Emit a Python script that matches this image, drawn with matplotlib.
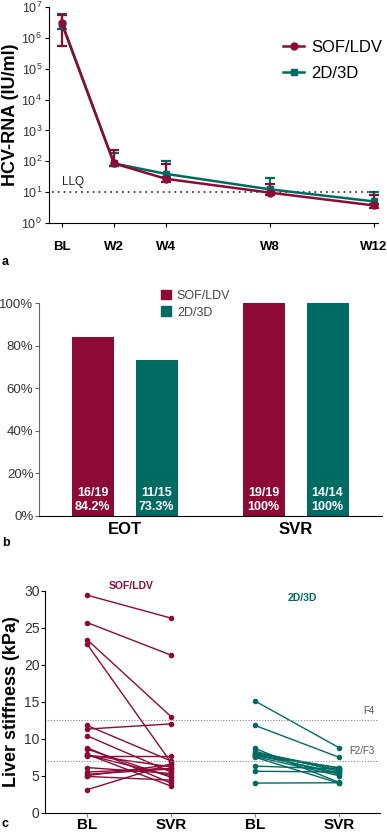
import matplotlib
matplotlib.use("Agg")
import matplotlib.pyplot as plt
from matplotlib.patches import Patch
from matplotlib.lines import Line2D

plt.rcParams['font.family'] = ['Liberation Sans', 'DejaVu Sans']

RED = "#8c0a35"
TEAL = "#006b62"
GREY = "#333333"

#------------------ data, panel a
weeks = [0, 2, 4, 8, 12]
week_labels = ["BL", "W2", "W4", "W8", "W12"]
sof_rna = [3.0e6, 85, 27, 9.6, 3.7]
sof_rna_hi = [5.4e6, 230, 80, 18, 8]
sof_rna_lo = [5.4e5, 70, 22, 8, 3.0]
dd_rna = [2.8e6, 85, 39, 12.3, 5.0]
dd_rna_hi = [6.0e6, 180, 100, 28, 10]
dd_rna_lo = [2.0e6, 72, 32, 10, 4.0]
llq = 10

#------------------ data, panel b
outcomes = ["EOT", "SVR"]
sof_rate = [84.2, 100]
dd_rate = [73.3, 100]
sof_counts = ["16/19", "19/19"]
dd_counts = ["11/15", "14/14"]
sof_pct = ["84.2%", "100%"]
dd_pct = ["73.3%", "100%"]

#------------------ data, panel c
stiff_ticks = ["BL", "SVR", "BL", "SVR"]
sof_bl = [29.4, 25.7, 23.4, 22.8, 11.8, 11.3, 10.4, 8.8, 8.6, 7.9, 7.8, 7.8, 7.7, 6.1, 5.5, 5.2, 5.0, 4.9, 3.1]
sof_svr = [26.3, 21.3, 13.0, 6.8, 7.0, 12.0, 5.5, 4.0, 4.8, 3.6, 5.0, 6.2, 7.7, 5.3, 6.0, 5.9, 6.5, 4.4, 6.6]
dd_bl = [15.1, 11.8, 8.7, 8.3, 8.1, 8.0, 7.9, 7.8, 7.7, 7.6, 7.5, 6.3, 5.6, 4.0]
dd_svr = [8.8, 7.5, 4.1, 5.6, 6.0, 5.8, 5.2, 5.4, 6.1, 5.0, 4.0, 5.9, 5.5, 4.05]
f4_cut = 12.5
f23_cut = 7.0

W, H = 387, 832
fig = plt.figure(figsize=(W / 100, H / 100), dpi=100)


def px_axes(left, top, right, bottom):
    return fig.add_axes([left / W, 1 - bottom / H, (right - left) / W, (bottom - top) / H])


#------------------ panel a
ax = px_axes(49, 7, 378, 223)
for vals, lo, hi, col, mk in [(dd_rna, dd_rna_lo, dd_rna_hi, TEAL, 's'),
                              (sof_rna, sof_rna_lo, sof_rna_hi, RED, 'o')]:
    err = [[v - l for v, l in zip(vals, lo)], [h - v for v, h in zip(vals, hi)]]
    ax.errorbar(weeks, vals, yerr=err, color=col, marker=mk, markersize=5,
                linewidth=1.8, elinewidth=1.6, capsize=3.5, capthick=1.6)
ax.axhline(llq, xmin=0.01, xmax=0.99, color='#222222', linestyle=(0, (1, 2.5)), linewidth=1.2)
ax.text(0.0, llq * 1.35, "LLQ", fontsize=8.5, color='#222222', ha='left', va='bottom')
ax.set_yscale('log')
ax.set_ylim(1, 1e7)
ax.set_xlim(-0.5, 12.15)
ax.set_yticks([10 ** k for k in range(8)])
ax.minorticks_off()
ax.set_xticks(weeks)
ax.set_xticklabels(week_labels, fontsize=9.5, fontweight='bold')
ax.tick_params(axis='x', length=3, pad=10)
ax.tick_params(axis='y', labelsize=9, length=3, labelcolor=GREY, pad=2)
ax.spines[['top', 'right']].set_visible(False)
ax.set_ylabel("HCV-RNA (IU/ml)", fontsize=13, fontweight='bold', labelpad=2)
handles = [Line2D([], [], color=RED, marker='o', markersize=5, linewidth=1.8),
           Line2D([], [], color=TEAL, marker='s', markersize=5, linewidth=1.8)]
ax.legend(handles, ["SOF/LDV", "2D/3D"], loc='upper left', bbox_to_anchor=(0.69, 0.88),
          frameon=False, fontsize=12, handlelength=1.3, handletextpad=0.4, labelspacing=0.7,
          borderaxespad=0)
fig.text(2 / W, 1 - 262 / H, "a", fontsize=9, fontweight='bold', va='center')

#------------------ panel b
ax = px_axes(39, 303, 382, 516)
bw = 0.656
for i in range(len(outcomes)):
    c = [0, 2.67][i]
    ax.bar(c - 0.5, sof_rate[i], width=bw, color=RED)
    ax.bar(c + 0.5, dd_rate[i], width=bw, color=TEAL)
    for xx, cnt, pct in [(c - 0.5, sof_counts[i], sof_pct[i]), (c + 0.5, dd_counts[i], dd_pct[i])]:
        ax.text(xx, 11, cnt, color='white', fontsize=9, fontweight='bold', ha='center', va='center')
        ax.text(xx, 4.3, pct, color='white', fontsize=9, fontweight='bold', ha='center', va='center')
ax.set_xlim(-1.34, 4.02)
ax.set_ylim(0, 100)
ax.set_yticks([0, 20, 40, 60, 80, 100])
ax.set_yticklabels([f"{v}%" for v in [0, 20, 40, 60, 80, 100]])
ax.set_xticks([0, 2.67])
ax.set_xticklabels(outcomes, fontsize=12, fontweight='bold')
ax.tick_params(axis='x', length=0, pad=4)
ax.tick_params(axis='y', labelsize=9.5, labelcolor=GREY, length=3, color='#666666', pad=1)
ax.spines[['top', 'right']].set_visible(False)
ax.spines['left'].set_color('#666666')
ax.legend([Patch(color=RED), Patch(color=TEAL)], ["SOF/LDV", "2D/3D"], loc='upper left',
          bbox_to_anchor=(0.34, 1.085), frameon=False, fontsize=9, labelcolor='#444444',
          handlelength=0.8, handleheight=0.8, handletextpad=0.5, labelspacing=0.35, borderaxespad=0)
fig.text(2 / W, 1 - 543 / H, "b", fontsize=9, fontweight='bold', va='center')

#------------------ panel c
ax = px_axes(45, 590.7, 380, 812.7)
for bl, svr, x0, col in [(sof_bl, sof_svr, 0, RED), (dd_bl, dd_svr, 2, TEAL)]:
    for a, b in zip(bl, svr):
        ax.plot([x0, x0 + 1], [a, b], color=col, marker='o', markersize=3, linewidth=1.0)
for yv, lab in [(f4_cut, "F4"), (f23_cut, "F2/F3")]:
    ax.axhline(yv, xmax=0.99, color='#888888', linestyle=(0, (1, 1.5)), linewidth=0.8)
    ax.text(3.43, yv + 0.6, lab, fontsize=7, color='#555555', ha='right', va='bottom')
ax.text(0.53, 30.6, "SOF/LDV", color=RED, fontsize=7.5, fontweight='bold', ha='center', va='center')
ax.text(2.56, 29.0, "2D/3D", color=TEAL, fontsize=7.5, fontweight='bold', ha='center', va='center')
ax.set_xlim(-0.5, 3.49)
ax.set_ylim(0, 30)
ax.set_yticks(range(0, 31, 5))
ax.set_xticks(range(4))
ax.set_xticklabels(stiff_ticks, fontsize=11, fontweight='bold')
ax.tick_params(axis='x', length=3, pad=1, color='#888888')
ax.tick_params(axis='y', labelsize=10, labelcolor=GREY, length=3, pad=1)
ax.spines[['top', 'right']].set_visible(False)
ax.set_ylabel("Liver stiffness (kPa)", fontsize=13, fontweight='bold', labelpad=3)
fig.text(2 / W, 1 - 824 / H, "c", fontsize=9, fontweight='bold', va='center')

fig.savefig("out.png", dpi=100)
